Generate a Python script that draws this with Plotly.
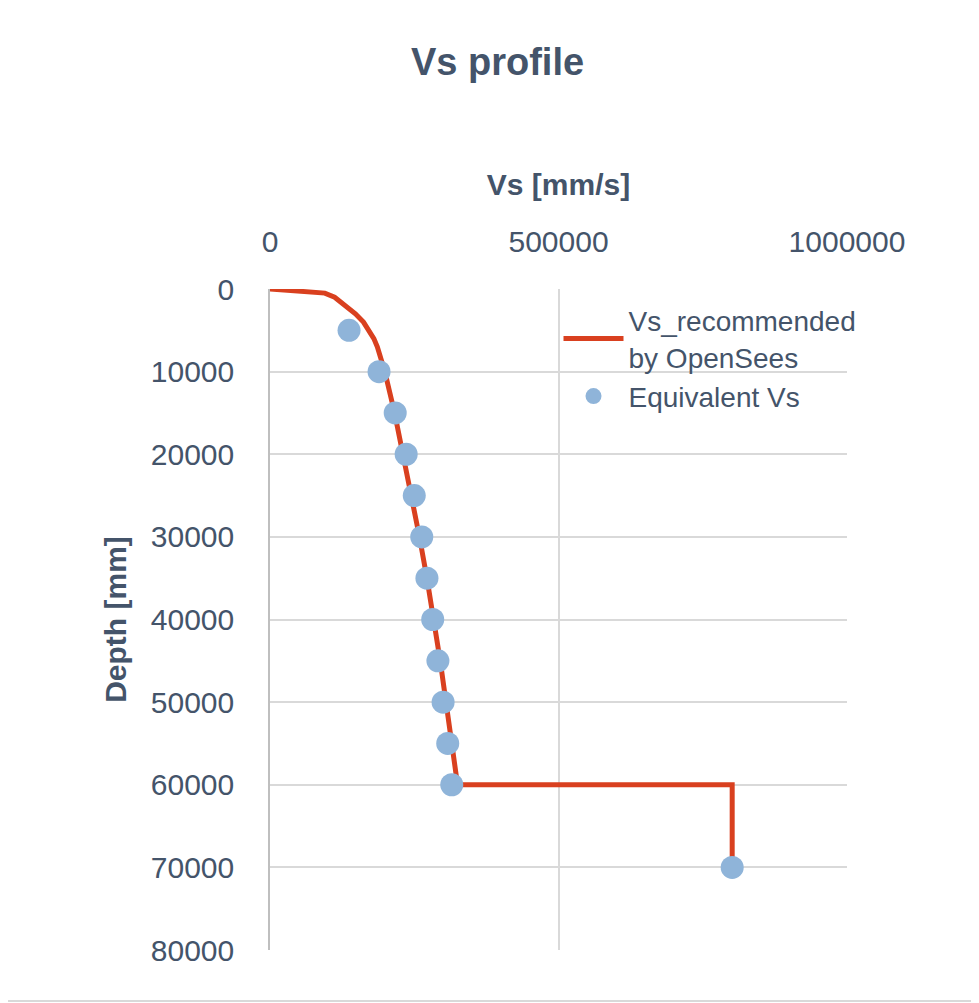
import plotly.graph_objects as go

# Vs recommended by OpenSees (line)
line_depth = [0, 500, 1000, 2000, 3000, 4000, 5000, 6000, 7000, 8000, 10000, 15000,
              20000, 25000, 30000, 35000, 40000, 45000, 50000, 55000, 60000, 60000, 70000]
line_vs = [0, 95000, 112000, 130000, 148000, 162000, 172000, 180000, 186000, 191000, 199000, 216000,
           231000, 246000, 259000, 272000, 284000, 295000, 305000, 315000, 325000, 801000, 801000]

# Equivalent Vs (points)
eq_depth = [5000, 10000, 15000, 20000, 25000, 30000, 35000, 40000, 45000, 50000, 55000, 60000, 70000]
eq_vs = [137000, 189000, 217000, 236000, 250000, 263000, 272000, 282000, 291000, 300000, 308000, 315000, 801000]

txt = "#44546A"

fig = go.Figure()
fig.add_trace(go.Scatter(x=line_vs, y=line_depth, mode="lines",
                         line=dict(color="#D9401F", width=5),
                         name="Vs_recommended<br>by OpenSees"))
fig.add_trace(go.Scatter(x=eq_vs, y=eq_depth, mode="markers",
                         marker=dict(color="#8FB4D9", size=23),
                         name="Equivalent Vs"))

fig.update_layout(
    width=979, height=1003,
    margin=dict(l=262, r=140, t=281, b=61),
    paper_bgcolor="white", plot_bgcolor="white",
    font=dict(family="Liberation Sans, Arial", color=txt, size=30),
    title=dict(text="<b>Vs profile</b>", x=0.5, xanchor="center", y=0.96, yanchor="top",
               font=dict(size=38, color=txt)),
    legend=dict(x=0.5, y=0.99, xanchor="left", yanchor="top", bgcolor="rgba(0,0,0,0)",
                font=dict(size=28, color=txt), tracegroupgap=45, itemwidth=60),
    xaxis=dict(side="top", range=[0, 1000000], dtick=500000, tickformat="d",
               showgrid=True, gridcolor="#D9D9D9", gridwidth=1.5, zeroline=False,
               title=dict(text="<b>Vs [mm/s]</b>", font=dict(size=30, color=txt), standoff=20),
               tickfont=dict(size=30, color=txt), ticks="", ticklabelstandoff=30),
    yaxis=dict(range=[80000, 0], dtick=10000, tickformat="d",
               showgrid=True, gridcolor="#D9D9D9", gridwidth=1.5, zeroline=False,
               showline=True, linecolor="#BFBFBF", linewidth=1.5,
               title=dict(text="<b>Depth [mm]</b>", font=dict(size=30, color=txt), standoff=15),
               tickfont=dict(size=30, color=txt), ticks="", ticklabelstandoff=28),
)
fig.add_shape(type="rect", xref="paper", yref="paper",
              x0=-0.464, x1=1.225, y0=-0.077, y1=1.434,
              line=dict(color="#D9D9D9", width=2))

fig.write_html("out.html")
